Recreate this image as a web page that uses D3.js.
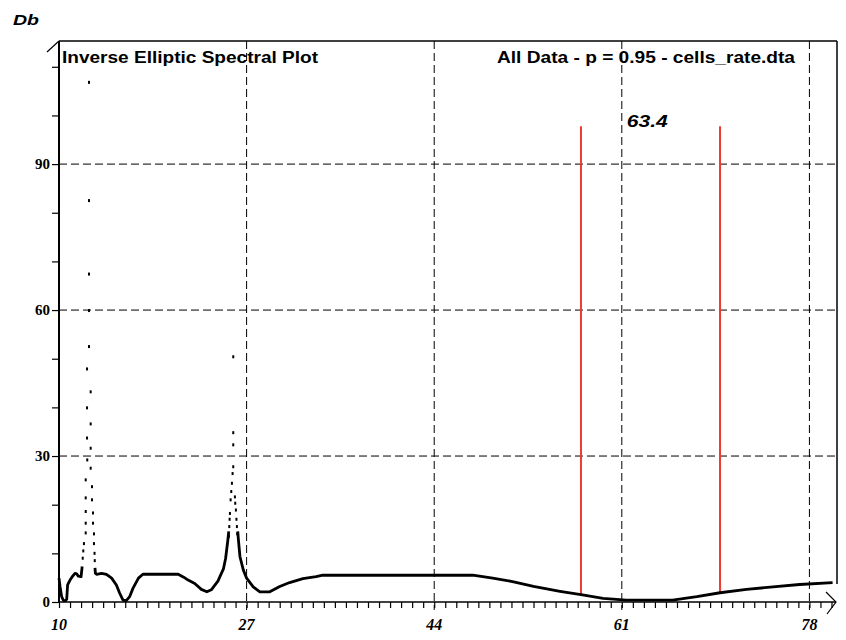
<html>
<script src='https://d3js.org/d3.v7.min.js'></script>
<body style="margin:0">
<svg width=846 height=640></svg>
<script>

// smooth part of the spectrum, null = break in the line (spikes are drawn as dots)
var curveFreq = [10.0, 10.1, 10.24, 10.4, 10.6, 10.7, 10.78, 11.0, 11.2, 11.45, 11.6, 11.75, 12.0, 12.1, null,
    13.26, 13.3, 13.4, 13.86, 14.3, 14.77, 15.2, 15.5, 15.8, 16.1, 16.4, 16.7, 17.2, 17.6, 20.8, 21.3, 21.7,
    22.3, 22.9, 23.4, 23.8, 24.4, 24.9, 25.1, 25.3, 25.38, null,
    26.2, 26.26, 26.4, 26.7, 27.0, 27.6, 28.2, 29.1, 30.0, 30.9, 32.1, 33.3, 33.9, 47.5, 49.3, 51.1, 53.0,
    55.4, 57.3, 59.3, 61.4, 65.6, 67.8, 69.9, 72.3, 74.7, 77.1, 80.1];
var curveDb = [4.9, 3.1, 1.1, 0.3, 0.3, 0.6, 3.5, 4.5, 5.2, 5.9, 5.8, 5.3, 5.2, 7.3, null,
    7.0, 5.9, 5.7, 5.9, 5.7, 4.9, 3.5, 1.8, 0.4, 0.3, 1.1, 2.8, 4.9, 5.7, 5.7, 5.1, 4.5,
    3.8, 2.6, 2.1, 2.5, 4.3, 6.8, 9.0, 12.7, 14.5, null,
    14.5, 12.7, 9.3, 6.6, 4.9, 3.1, 2.1, 2.1, 3.2, 4.0, 4.8, 5.2, 5.5, 5.5, 4.9, 4.2, 3.2,
    2.2, 1.5, 0.75, 0.4, 0.4, 1.1, 1.9, 2.6, 3.1, 3.6, 4.0];

// sparse samples on the two peaks
var spikeFreq = [12.15, 12.2, 12.26, 12.42, 12.42, 12.42, 12.42, 12.42, 12.56, 12.54, 12.54, 12.54, 12.72, 12.72, 12.72, 12.72, 12.72,
    12.87, 12.87, 12.87, 12.87, 12.99, 12.99, 13.08, 13.08, 13.17, 13.17, 13.22, 13.24,
    25.40, 25.43, 25.46, 25.49, 25.55, 25.61, 25.67, 25.73, 25.79, 25.79, 25.79, 25.79,
    25.94, 25.97, 26.03, 26.08, 26.12, 26.15];
var spikeDb = [9.0, 10.5, 12.0, 14.2, 16.2, 18.6, 21.4, 25.1, 29.2, 33.7, 39.9, 47.9, 52.5, 59.9, 67.4, 82.5, 106.8,
    27.5, 31.6, 36.6, 43.2, 21.0, 23.7, 18.3, 16.2, 14.0, 12.0, 10.0, 8.5,
    13.5, 15.5, 17.0, 18.2, 21.0, 22.7, 24.4, 26.4, 27.8, 32.3, 34.8, 50.4,
    21.6, 20.3, 18.9, 17.0, 15.5, 14.0];

// band markers
var bandFreq = [57.3, 69.9];
var bandDb = [1.5, 1.9];
var bandTop = 97.8;
var bandLabel = "63.4";
var bandLabelFreq = 61.45;

var xTicks = [10, 27, 44, 61, 78];
var yTicks = [0, 30, 60, 90];
var xGrid = [27, 44, 61, 78];
var yGrid = [30, 60, 90];

var title = "Inverse Elliptic Spectral Plot";
var subtitle = "All Data - p = 0.95 - cells_rate.dta";

var pLeft = 59, pRight = 837, pTop = 41, pBottom = 602;

var x = d3.scaleLinear().domain([10, 80.5]).range([pLeft, pRight]);
var y = d3.scaleLinear().domain([0, 115.3]).range([pBottom, pTop]);

var svg = d3.select("svg");
svg.append("rect").attr("width", 846).attr("height", 640).style("fill", "white");

// grid
svg.selectAll(".vgrid").data(xGrid).enter().append("line")
    .attr("x1", d => x(d)).attr("x2", d => x(d))
    .attr("y1", pTop).attr("y2", pBottom + 8)
    .style("stroke", "black").style("stroke-width", 1).style("stroke-dasharray", "8,4");
svg.selectAll(".hgrid").data(yGrid).enter().append("line")
    .attr("x1", pLeft).attr("x2", pRight)
    .attr("y1", d => y(d)).attr("y2", d => y(d))
    .style("stroke", "black").style("stroke-width", 1).style("stroke-dasharray", "8,4");

// frame
svg.append("line").attr("x1", pLeft).attr("x2", pRight).attr("y1", pTop).attr("y2", pTop)
    .style("stroke", "black").style("stroke-width", 1.5);
svg.append("line").attr("x1", pRight).attr("x2", pRight).attr("y1", pTop).attr("y2", pBottom - 18)
    .style("stroke", "black").style("stroke-width", 1.5);

// x axis with a tick every unit
var xAxis = svg.append("g").attr("transform", "translate(0," + pBottom + ")")
    .call(d3.axisBottom(x).tickValues(d3.range(10, 81)).tickSize(6).tickFormat(""));
xAxis.select(".domain").remove();
xAxis.selectAll("line").style("stroke-width", 1.2);
svg.append("line").attr("x1", pLeft).attr("x2", pRight - 1).attr("y1", pBottom).attr("y2", pBottom)
    .style("stroke", "black").style("stroke-width", 1.5);
svg.append("path")
    .attr("d", "M" + (pRight - 11) + "," + (pBottom - 10) + "L" + (pRight - 1) + "," + pBottom + "L" + (pRight - 10) + "," + (pBottom + 12))
    .style("fill", "none").style("stroke", "black").style("stroke-width", 1.2);

svg.selectAll(".xlab").data(xTicks).enter().append("text")
    .attr("x", d => x(d)).attr("y", pBottom + 28)
    .attr("text-anchor", "middle")
    .style("font-family", "Liberation Serif").style("font-weight", "bold").style("font-style", "italic")
    .style("font-size", "16px")
    .text(d => d);

// y axis, tick every 10
var yAxis = svg.append("g").attr("transform", "translate(" + pLeft + ",0)")
    .call(d3.axisLeft(y).tickValues(d3.range(0, 111, 10)).tickSize(7).tickFormat(""));
yAxis.select(".domain").remove();
yAxis.selectAll("line").style("stroke-width", 1.2);
svg.append("line").attr("x1", pLeft).attr("x2", pLeft).attr("y1", pTop).attr("y2", pBottom)
    .style("stroke", "black").style("stroke-width", 2);
svg.append("line").attr("x1", pLeft - 12).attr("x2", pLeft).attr("y1", pTop + 11).attr("y2", pTop)
    .style("stroke", "black").style("stroke-width", 1.2);

svg.selectAll(".ylab").data(yTicks).enter().append("text")
    .attr("x", pLeft - 9).attr("y", d => y(d) + 5)
    .attr("text-anchor", "end")
    .style("font-family", "Liberation Serif").style("font-weight", "bold")
    .style("font-size", "15px")
    .text(d => d);

svg.append("text").attr("x", 13).attr("y", 25).text("Db")
    .attr("textLength", 26).attr("lengthAdjust", "spacingAndGlyphs")
    .style("font-family", "Liberation Sans").style("font-weight", "bold").style("font-style", "italic")
    .style("font-size", "15px");

// titles
svg.append("text").attr("x", 62).attr("y", 63).text(title)
    .attr("textLength", 256).attr("lengthAdjust", "spacingAndGlyphs")
    .style("font-family", "Liberation Sans").style("font-weight", "bold").style("font-size", "16px");
svg.append("text").attr("x", 497).attr("y", 63).text(subtitle)
    .attr("textLength", 298).attr("lengthAdjust", "spacingAndGlyphs")
    .style("font-family", "Liberation Sans").style("font-weight", "bold").style("font-size", "16px");

// band lines
svg.selectAll(".band").data(bandFreq).enter().append("line")
    .attr("x1", d => x(d)).attr("x2", d => x(d))
    .attr("y1", y(bandTop)).attr("y2", (d, i) => y(bandDb[i]))
    .style("stroke", "#ee3b2f").style("stroke-width", 2);
svg.append("text").attr("x", x(bandLabelFreq)).attr("y", 127).text(bandLabel)
    .attr("textLength", 41).attr("lengthAdjust", "spacingAndGlyphs")
    .style("font-family", "Liberation Sans").style("font-weight", "bold").style("font-style", "italic")
    .style("font-size", "17px");

// spectrum
var pts = curveFreq.map((f, i) => ({ f: f, db: curveDb[i] }));
var line = d3.line()
    .defined(d => d.f !== null)
    .x(d => x(d.f))
    .y(d => y(d.db));
svg.append("path").datum(pts)
    .attr("d", line)
    .style("fill", "none").style("stroke", "black").style("stroke-width", 2.8)
    .style("stroke-linejoin", "round");

svg.selectAll(".dot").data(spikeFreq).enter().append("rect")
    .attr("x", d => x(d) - 1).attr("y", (d, i) => y(spikeDb[i]) - 1.5)
    .attr("width", 2).attr("height", 3)
    .style("fill", "black");

</script>
</body>
</html>
